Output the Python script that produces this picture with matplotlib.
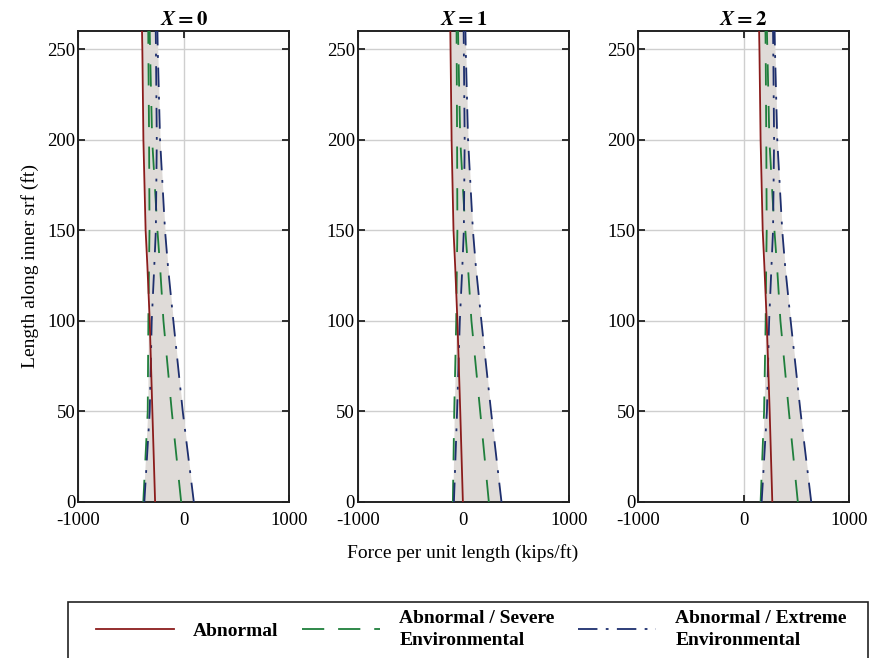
import matplotlib
matplotlib.use("Agg")
from matplotlib import pyplot as plt
from matplotlib.lines import Line2D
from matplotlib.patches import Rectangle
import numpy as np

plt.rcParams['font.family'] = ['Liberation Serif', 'DejaVu Serif']
plt.rcParams['mathtext.fontset'] = 'stix'
plt.rcParams['lines.scale_dashes'] = False
plt.rcParams['axes.unicode_minus'] = False

# length along inner surface (ft)
length = [0, 50, 100, 130, 150, 200, 250, 260]
panel_titles = [r'$\mathbfit{X}\mathbf{=0}$',
                r'$\mathbfit{X}\mathbf{=1}$',
                r'$\mathbfit{X}\mathbf{=2}$']

# force per unit length (kips/ft), one row per panel
abnormal = [
    [-272, -298, -323, -345, -362, -383, -393, -396],
    [-3, -28, -55, -76, -92, -110, -120, -122],
    [273, 248, 220, 198, 182, 162, 151, 148],
]
severe_min = [
    [-384, -342, -336, -330, -325, -329, -336, -337],
    [-98, -85, -66, -60, -55, -58, -62, -63],
    [162, 195, 210, 215, 220, 216, 210, 208],
]
severe_max = [
    [-25, -114, -193, -225, -250, -300, -320, -323],
    [243, 161, 78, 45, 20, -28, -46, -49],
    [515, 430, 350, 318, 293, 245, 226, 222],
]
extreme_min = [
    [-374, -323, -304, -280, -265, -256, -264, -266],
    [-88, -58, -32, -8, 6, 14, 6, 4],
    [172, 222, 243, 265, 280, 290, 282, 280],
]
extreme_max = [
    [95, -10, -99, -150, -178, -225, -247, -250],
    [363, 264, 172, 120, 92, 46, 24, 21],
    [642, 540, 447, 395, 367, 320, 298, 295],
]
legend_labels = ['Abnormal', 'Abnormal / Severe\nEnvironmental',
                 'Abnormal / Extreme\nEnvironmental']

red = '#8b1c1c'
green = '#1f7f3c'
blue = '#1e2f6e'
fill_c = '#dfdbd8'
green_dash = (0, (16, 14))
blue_dash = (0, (14, 7, 2, 7))

fig = plt.figure(figsize=(8.71, 6.58), dpi=100)
W, H = 871, 658
lefts = [78.3, 357.7, 638.0]
ax_w = 211.0
ax_top, ax_bot = 31.0, 502.0

y = np.array(length)
for i in range(3):
    ax = fig.add_axes([lefts[i] / W, 1 - ax_bot / H, ax_w / W, (ax_bot - ax_top) / H])
    cols = np.array([abnormal[i], severe_min[i], severe_max[i], extreme_min[i], extreme_max[i]])
    ax.fill_betweenx(y, cols.min(axis=0), cols.max(axis=0), color=fill_c, lw=0, zorder=1)
    ax.plot(severe_min[i], y, color=green, lw=1.3, linestyle=green_dash, zorder=3)
    ax.plot(severe_max[i], y, color=green, lw=1.3, linestyle=green_dash, zorder=3)
    ax.plot(extreme_min[i], y, color=blue, lw=1.3, linestyle=blue_dash, zorder=3)
    ax.plot(extreme_max[i], y, color=blue, lw=1.3, linestyle=blue_dash, zorder=3)
    ax.plot(abnormal[i], y, color=red, lw=1.3, zorder=4)

    ax.set_xlim(-1000, 1000)
    ax.set_ylim(0, 260)
    ax.set_xticks([-1000, 0, 1000])
    ax.set_yticks([0, 50, 100, 150, 200, 250])
    ax.grid(True, color='#cfcfcf', lw=1.0, zorder=0)
    ax.set_axisbelow(True)
    ax.tick_params(direction='in', top=True, right=True, length=5, width=1.3,
                   labelsize=13.5, color='#222222')
    ax.tick_params(axis='x', pad=7)
    ax.tick_params(axis='y', pad=2)
    for s in ax.spines.values():
        s.set_linewidth(1.4)
        s.set_color('#222222')
    ax.set_title(panel_titles[i], fontsize=15, pad=4)
    if i == 0:
        ax.set_ylabel('Length along inner srf (ft)', fontsize=14, labelpad=6)

fig.text(463 / W, 1 - 553 / H, 'Force per unit length (kips/ft)', fontsize=14,
         ha='center', va='center')

handles = [
    Line2D([], [], color=red, lw=1.3),
    Line2D([], [], color=green, lw=1.3, linestyle=(0, (16, 10))),
    Line2D([], [], color=blue, lw=1.3, linestyle=(0, (14, 6, 2, 6))),
]
fs = 14
leg = fig.legend(handles, legend_labels, loc='upper left',
                 bbox_to_anchor=((96 - 0.5 * fs * 100 / 72) / W, 1 - 600 / H),
                 ncol=3, frameon=False, handlelength=4.0, handletextpad=1.0,
                 columnspacing=1.2, borderpad=0.5, borderaxespad=0,
                 prop={'weight': 'bold', 'size': fs})
for t in leg.get_texts():
    t.set_linespacing(1.4)
fig.patches.append(Rectangle((68 / W, -0.05), 800 / W, 0.05 + (658 - 602) / H,
                             transform=fig.transFigure, fill=False,
                             edgecolor='#222222', lw=1.2))

fig.savefig('out.png', dpi=100)
